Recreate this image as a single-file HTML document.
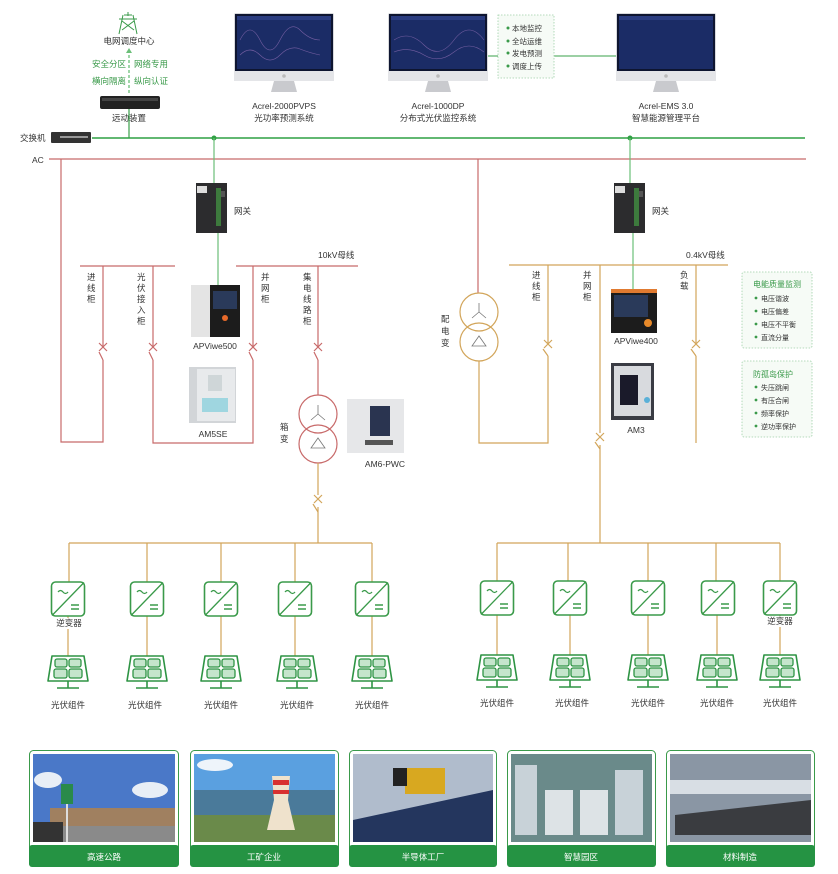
<!DOCTYPE html>
<html><head><meta charset="utf-8"><style>
html,body{margin:0;padding:0;background:#fff;}
svg{display:block;font-family:"Liberation Sans","Noto Sans CJK SC",sans-serif;}
.t{font-size:8.5px;fill:#333;}
.g{font-size:8.5px;fill:#3a9a4a;}
</style></head><body>
<svg width="838" height="874" viewBox="0 0 838 874" xmlns="http://www.w3.org/2000/svg">
<defs>
 <g id="inv">
  <rect x="-16.5" y="0" width="33" height="34" rx="4" fill="#fff" stroke="#3a9a4a" stroke-width="1.6"/>
  <line x1="-16" y1="33.5" x2="16" y2="0.5" stroke="#3a9a4a" stroke-width="1.3"/>
  <path d="M-10 10 q2.5 -3 5 0 t5 0" fill="none" stroke="#3a9a4a" stroke-width="1.3"/>
  <line x1="3" y1="23" x2="11" y2="23" stroke="#3a9a4a" stroke-width="1.5"/>
  <line x1="3" y1="27" x2="11" y2="27" stroke="#3a9a4a" stroke-width="1.5"/>
 </g>
 <g id="pv">
  <path d="M-16 0 H16 L20 25 H-20 Z" fill="#fff" stroke="#2e9444" stroke-width="1.6" stroke-linejoin="round"/>
  <rect x="-13" y="3" width="12" height="8" rx="2" fill="#c5e5cc" stroke="#2e9444" stroke-width="1.3"/>
  <rect x="1" y="3" width="12" height="8" rx="2" fill="#c5e5cc" stroke="#2e9444" stroke-width="1.3"/>
  <rect x="-14" y="13" width="13" height="9" rx="2" fill="#c5e5cc" stroke="#2e9444" stroke-width="1.3"/>
  <rect x="1" y="13" width="13" height="9" rx="2" fill="#c5e5cc" stroke="#2e9444" stroke-width="1.3"/>
  <line x1="0" y1="25" x2="0" y2="32" stroke="#2e9444" stroke-width="1.6"/>
  <line x1="-11" y1="32" x2="11" y2="32" stroke="#2e9444" stroke-width="1.6"/>
 </g>
 <g id="monitor">
  <rect x="0" y="0" width="100" height="68" rx="2" fill="#d8d9dc"/>
  <rect x="1" y="1" width="98" height="57" fill="#0e1530"/>
  <rect x="3" y="6" width="94" height="50" fill="#1b2c66"/>
  <rect x="3" y="3" width="94" height="4" fill="#2a3c80"/>
  <rect x="0" y="58" width="100" height="10" fill="#e4e5e8"/>
  <circle cx="50" cy="63" r="1.8" fill="#bbb"/>
  <path d="M40 68 L60 68 L63 79 L37 79 Z" fill="#c9cace"/>
 </g>
 <g id="gw">
  <rect x="0" y="0" width="31" height="50" fill="#2c2c2e"/>
  <rect x="1" y="3" width="10" height="7" fill="#ddd"/>
  <rect x="20" y="5" width="5" height="38" fill="#3d7a3d"/>
  <rect x="25" y="8" width="4" height="6" fill="#555"/>
 </g>
</defs>

<!-- top: grid center -->
<g stroke="#3a9a4a" stroke-width="1" fill="none">
 <line x1="128" y1="12" x2="128" y2="16"/>
 <line x1="119" y1="19" x2="137" y2="19"/>
 <path d="M124 15 L132 15 M123 15 L119 34 M133 15 L137 34 M122 21 L134 30 M134 21 L122 30"/>
</g>
<text x="129" y="44" class="t" text-anchor="middle">电网调度中心</text>
<line x1="129" y1="50" x2="129" y2="95" stroke="#6bbf78" stroke-width="1.3" stroke-dasharray="3,2"/>
<path d="M126 53 L129 48 L132 53 Z" fill="#6bbf78"/>
<text x="92" y="67" class="g">安全分区</text><text x="134" y="67" class="g">网络专用</text>
<text x="92" y="84" class="g">横向隔离</text><text x="134" y="84" class="g">纵向认证</text>
<rect x="100" y="96" width="60" height="13" rx="2" fill="#222"/>
<rect x="102" y="98" width="56" height="3" fill="#444"/>
<text x="129" y="121" class="t" text-anchor="middle">远动装置</text>
<line x1="129" y1="109" x2="129" y2="138" stroke="#3aa04a" stroke-width="1.2"/>

<!-- monitors -->
<use href="#monitor" x="234" y="13"/>
<use href="#monitor" x="388" y="13"/>
<use href="#monitor" x="616" y="13"/>
<g stroke="#8a6ab0" stroke-width="0.6" fill="none" opacity="0.8">
 <path d="M240 40 q10 -20 20 0 t20 0 t20 -10 t20 10"/><path d="M240 55 q10 -10 20 0 t20 0 t20 -6 t20 6"/>
 <path d="M394 40 q15 -10 30 5 t30 -5 t30 0"/><path d="M394 52 q15 -6 30 3 t30 -3 t30 0"/>
</g>
<text x="284" y="109" class="t" text-anchor="middle">Acrel-2000PVPS</text>
<text x="284" y="121" class="t" text-anchor="middle">光功率预测系统</text>
<text x="438" y="109" class="t" text-anchor="middle">Acrel-1000DP</text>
<text x="438" y="121" class="t" text-anchor="middle">分布式光伏监控系统</text>
<text x="666" y="109" class="t" text-anchor="middle">Acrel-EMS 3.0</text>
<text x="666" y="121" class="t" text-anchor="middle">智慧能源管理平台</text>
<line x1="488" y1="56" x2="498" y2="56" stroke="#3aa04a" stroke-width="1"/>
<line x1="554" y1="56" x2="616" y2="56" stroke="#3aa04a" stroke-width="1"/>
<rect x="498" y="15" width="56" height="63" fill="#f6fbf6" stroke="#9fd0a8" stroke-width="0.8" stroke-dasharray="1.5,1.5"/>
<g font-size="7.5" fill="#333">
 <text x="512" y="31">本地监控</text><text x="512" y="44">全站运维</text><text x="512" y="56">发电预测</text><text x="512" y="69">调度上传</text>
</g>
<g fill="#3a9a4a"><circle cx="508" cy="28" r="1.5"/><circle cx="508" cy="41" r="1.5"/><circle cx="508" cy="53" r="1.5"/><circle cx="508" cy="66" r="1.5"/></g>

<!-- switch & AC lines -->
<text x="20" y="141" class="t">交换机</text>
<rect x="51" y="132" width="40" height="11" rx="1" fill="#333"/>
<rect x="60" y="136" width="28" height="2" fill="#999"/>
<line x1="92" y1="138" x2="805" y2="138" stroke="#2fa043" stroke-width="1.6"/>
<circle cx="214" cy="138" r="2.5" fill="#2fa043"/><circle cx="630" cy="138" r="2.5" fill="#2fa043"/>
<text x="32" y="163" class="t">AC</text>
<line x1="49" y1="159" x2="806" y2="159" stroke="#c86a6a" stroke-width="1.2"/>

<!-- gateways -->
<line x1="214" y1="138" x2="214" y2="183" stroke="#6bbf78" stroke-width="1.2"/>
<use href="#gw" x="196" y="183"/>
<line x1="218" y1="233" x2="218" y2="285" stroke="#6bbf78" stroke-width="1.2"/>
<text x="234" y="214" class="t">网关</text>
<line x1="630" y1="138" x2="630" y2="183" stroke="#6bbf78" stroke-width="1.2"/>
<use href="#gw" x="614" y="183"/>
<line x1="633" y1="233" x2="633" y2="289" stroke="#6bbf78" stroke-width="1.2"/>
<text x="652" y="214" class="t">网关</text>

<!-- left 10kV section (red) -->
<g stroke="#c86a6a" stroke-width="1.2" fill="none">
 <line x1="80" y1="266" x2="175" y2="266"/>
 <line x1="236" y1="266" x2="358" y2="266"/>
 <path d="M61 159 V442 H103 V360"/><line x1="103" y1="266" x2="103" y2="347"/>
 <path d="M153 266 V347 M153 360 V443 H253 V360 M253 266 V347"/>
 <path d="M318 266 V347 M318 360 V395"/>
 <path d="M99 343 L107 351 M107 343 L99 351 M99 352 L103 360"/>
 <path d="M149 343 L157 351 M157 343 L149 351 M149 352 L153 360"/>
 <path d="M249 343 L257 351 M257 343 L249 351 M249 352 L253 360"/>
 <path d="M314 343 L322 351 M322 343 L314 351 M314 352 L318 360"/>
 <circle cx="318" cy="414" r="19"/><circle cx="318" cy="444" r="19"/>
</g>
<g stroke="#777" stroke-width="0.8" fill="none">
 <path d="M318 405 V414 L311 420 M318 414 L325 420"/><path d="M311 448 L318 438 L325 448 Z"/>
 <path d="M479 303 V312 L472 318 M479 312 L486 318"/><path d="M472 346 L479 336 L486 346 Z"/>
</g>
<text x="318" y="258" class="t">10kV母线</text>
<g class="t">
 <text x="87" y="280">进</text><text x="87" y="291">线</text><text x="87" y="302">柜</text>
 <text x="137" y="280">光</text><text x="137" y="291">伏</text><text x="137" y="302">接</text><text x="137" y="313">入</text><text x="137" y="324">柜</text>
 <text x="261" y="280">并</text><text x="261" y="291">网</text><text x="261" y="302">柜</text>
 <text x="303" y="280">集</text><text x="303" y="291">电</text><text x="303" y="302">线</text><text x="303" y="313">路</text><text x="303" y="324">柜</text>
 <text x="280" y="430">箱</text><text x="280" y="442">变</text>
</g>
<!-- devices left -->
<rect x="191" y="285" width="20" height="52" fill="#e4e4e4"/><rect x="210" y="285" width="30" height="52" fill="#1c1c1c"/>
<rect x="213" y="291" width="24" height="18" fill="#2a3a5a"/><circle cx="225" cy="318" r="3" fill="#e86a2a"/>
<text x="215" y="349" class="t" text-anchor="middle">APViwe500</text>
<rect x="189" y="367" width="47" height="56" fill="#d2d5d8"/><rect x="197" y="369" width="38" height="52" fill="#e8eaec"/>
<rect x="208" y="375" width="14" height="16" fill="#cfd6d8"/><rect x="202" y="398" width="26" height="14" fill="#9fd6e0"/>
<text x="213" y="437" class="t" text-anchor="middle">AM5SE</text>
<rect x="347" y="399" width="57" height="54" fill="#e6e7e9"/><rect x="370" y="406" width="20" height="30" fill="#2a3450"/>
<rect x="365" y="440" width="28" height="5" fill="#555"/>
<text x="385" y="467" class="t" text-anchor="middle">AM6-PWC</text>

<!-- left gold below transformer -->
<g stroke="#d2a55a" stroke-width="1.2" fill="none">
 <path d="M318 463 V495 M318 507 V543"/>
 <path d="M314 495 L322 503 M322 495 L314 503 M313 504 L318 512"/>
 <line x1="69" y1="543" x2="372" y2="543"/>
 <path d="M69 543 V582 M147 543 V582 M221 543 V582 M295 543 V582 M372 543 V582"/>
 <path d="M68 616 V656 M147 616 V656 M221 616 V656 M295 616 V656 M372 616 V656"/>
</g>

<!-- right 0.4kV section -->
<line x1="478" y1="159" x2="478" y2="293" stroke="#c86a6a" stroke-width="1.2"/>
<g stroke="#d2a55a" stroke-width="1.2" fill="none">
 <line x1="509" y1="265" x2="728" y2="265"/>
 <circle cx="479" cy="312" r="19"/><circle cx="479" cy="342" r="19"/>
 <path d="M479 361 V443 H548 V356 M548 265 V344"/>
 <path d="M544 340 L552 348 M552 340 L544 348 M543 349 L548 356"/>
 <path d="M600 265 V433 M600 445 V543"/>
 <path d="M596 433 L604 441 M604 433 L596 441 M595 442 L600 449"/>
 <path d="M696 265 V344 M696 356 V443"/>
 <path d="M692 340 L700 348 M700 340 L692 348 M691 349 L696 356"/>
 <line x1="497" y1="543" x2="780" y2="543"/>
 <path d="M497 543 V581 M568 543 V581 M648 543 V581 M716 543 V581 M780 543 V581"/>
 <path d="M497 615 V655 M570 615 V655 M648 615 V655 M717 615 V655 M780 615 V655"/>
</g>
<text x="686" y="258" class="t">0.4kV母线</text>
<g class="t">
 <text x="441" y="322">配</text><text x="441" y="334">电</text><text x="441" y="346">变</text>
 <text x="532" y="278">进</text><text x="532" y="289">线</text><text x="532" y="300">柜</text>
 <text x="583" y="278">并</text><text x="583" y="289">网</text><text x="583" y="300">柜</text>
 <text x="680" y="278">负</text><text x="680" y="289">载</text>
</g>
<rect x="611" y="289" width="46" height="44" fill="#1c1c1c"/><rect x="611" y="289" width="46" height="4" fill="#e07a30"/>
<rect x="614" y="295" width="34" height="22" fill="#2a3a5a"/><circle cx="648" cy="323" r="4" fill="#e88a2a"/>
<text x="636" y="344" class="t" text-anchor="middle">APViwe400</text>
<rect x="611" y="363" width="43" height="57" fill="#3a3c44"/><rect x="614" y="366" width="37" height="50" fill="#d8dade"/>
<rect x="620" y="375" width="18" height="30" fill="#1a1a2a"/><circle cx="647" cy="400" r="3" fill="#5ab0d8"/>
<text x="636" y="433" class="t" text-anchor="middle">AM3</text>

<!-- right info boxes -->
<rect x="742" y="272" width="70" height="76" rx="2" fill="#f6fbf6" stroke="#9fd0a8" stroke-width="0.8" stroke-dasharray="1.5,1.5"/>
<text x="753" y="287" font-size="8" fill="#3a9a4a">电能质量监测</text>
<g font-size="7" fill="#333"><text x="761" y="301">电压谐波</text><text x="761" y="314">电压偏差</text><text x="761" y="327">电压不平衡</text><text x="761" y="340">直流分量</text></g>
<g fill="#3a9a4a"><circle cx="756" cy="298" r="1.4"/><circle cx="756" cy="311" r="1.4"/><circle cx="756" cy="324" r="1.4"/><circle cx="756" cy="337" r="1.4"/></g>
<rect x="742" y="361" width="70" height="76" rx="2" fill="#f6fbf6" stroke="#9fd0a8" stroke-width="0.8" stroke-dasharray="1.5,1.5"/>
<text x="753" y="377" font-size="8" fill="#3a9a4a">防孤岛保护</text>
<g font-size="7" fill="#333"><text x="761" y="390">失压跳闸</text><text x="761" y="403">有压合闸</text><text x="761" y="416">频率保护</text><text x="761" y="429">逆功率保护</text></g>
<g fill="#3a9a4a"><circle cx="756" cy="387" r="1.4"/><circle cx="756" cy="400" r="1.4"/><circle cx="756" cy="413" r="1.4"/><circle cx="756" cy="426" r="1.4"/></g>

<!-- inverters & panels -->
<use href="#inv" x="68" y="582"/><use href="#inv" x="147" y="582"/><use href="#inv" x="221" y="582"/><use href="#inv" x="295" y="582"/><use href="#inv" x="372" y="582"/>
<use href="#inv" x="497" y="581"/><use href="#inv" x="570" y="581"/><use href="#inv" x="648" y="581"/><use href="#inv" x="718" y="581"/><use href="#inv" x="780" y="581"/>
<rect x="56" y="618" width="26" height="11" fill="#fff"/><text x="69" y="626" class="t" text-anchor="middle">逆变器</text>
<rect x="767" y="616" width="26" height="11" fill="#fff"/><text x="780" y="624" class="t" text-anchor="middle">逆变器</text>
<use href="#pv" x="68" y="656"/><use href="#pv" x="147" y="656"/><use href="#pv" x="221" y="656"/><use href="#pv" x="297" y="656"/><use href="#pv" x="372" y="656"/>
<use href="#pv" x="497" y="655"/><use href="#pv" x="570" y="655"/><use href="#pv" x="648" y="655"/><use href="#pv" x="717" y="655"/><use href="#pv" x="780" y="655"/>
<g class="t" text-anchor="middle">
 <text x="68" y="708">光伏组件</text><text x="145" y="708">光伏组件</text><text x="221" y="708">光伏组件</text><text x="297" y="708">光伏组件</text><text x="372" y="708">光伏组件</text>
 <text x="497" y="706">光伏组件</text><text x="572" y="706">光伏组件</text><text x="648" y="706">光伏组件</text><text x="717" y="706">光伏组件</text><text x="780" y="706">光伏组件</text>
</g>

<!-- bottom cards -->
<g>
 <rect x="29.5" y="750.5" width="149" height="116" rx="4" fill="#fff" stroke="#3a9a4a"/>
 <rect x="33" y="754" width="142" height="88" fill="#4a78c8"/>
 <ellipse cx="48" cy="780" rx="14" ry="8" fill="#e8eef6"/><ellipse cx="150" cy="790" rx="18" ry="8" fill="#e8eef6"/>
 <rect x="50" y="808" width="125" height="18" fill="#a08060"/><rect x="33" y="826" width="142" height="16" fill="#8a8a8a"/>
 <rect x="33" y="822" width="30" height="20" fill="#333"/>
 <rect x="61" y="784" width="12" height="20" fill="#2a8a4a"/><rect x="66" y="804" width="2" height="38" fill="#ddd"/>
 <rect x="29" y="845" width="150" height="22" rx="3" fill="#259343"/>
 <text x="104" y="860" font-size="8.5" fill="#fff" text-anchor="middle">高速公路</text>

 <rect x="190.5" y="750.5" width="148" height="116" rx="4" fill="#fff" stroke="#3a9a4a"/>
 <rect x="194" y="754" width="141" height="88" fill="#5aa0e0"/>
 <ellipse cx="215" cy="765" rx="18" ry="6" fill="#eef4fa"/>
 <rect x="194" y="790" width="141" height="52" fill="#4a7a9a"/><rect x="194" y="815" width="141" height="27" fill="#6a8a4a"/>
 <path d="M272 776 L290 776 L288 800 L295 830 L267 830 L274 800 Z" fill="#efe2cc"/><rect x="273" y="780" width="16" height="5" fill="#d83030"/><rect x="273" y="790" width="16" height="4" fill="#d83030"/>
 <rect x="190" y="845" width="149" height="22" rx="3" fill="#259343"/>
 <text x="264" y="860" font-size="8.5" fill="#fff" text-anchor="middle">工矿企业</text>

 <rect x="349.5" y="750.5" width="147" height="116" rx="4" fill="#fff" stroke="#3a9a4a"/>
 <rect x="353" y="754" width="140" height="88" fill="#b0bccc"/><path d="M353 842 L353 820 L493 790 L493 842 Z" fill="#24365e"/>
 <rect x="405" y="768" width="40" height="26" fill="#d8a820"/><rect x="393" y="768" width="14" height="18" fill="#222"/>
 <rect x="349" y="845" width="148" height="22" rx="3" fill="#259343"/>
 <text x="423" y="860" font-size="8.5" fill="#fff" text-anchor="middle">半导体工厂</text>

 <rect x="507.5" y="750.5" width="148" height="116" rx="4" fill="#fff" stroke="#3a9a4a"/>
 <rect x="511" y="754" width="141" height="88" fill="#6a8a8a"/>
 <rect x="515" y="765" width="22" height="70" fill="#c8d2d8"/><rect x="545" y="790" width="28" height="45" fill="#dde3e6"/><rect x="580" y="790" width="28" height="45" fill="#dde3e6"/><rect x="615" y="770" width="28" height="65" fill="#c8d2d8"/>
 <rect x="507" y="845" width="149" height="22" rx="3" fill="#259343"/>
 <text x="581" y="860" font-size="8.5" fill="#fff" text-anchor="middle">智慧园区</text>

 <rect x="666.5" y="750.5" width="148" height="116" rx="4" fill="#fff" stroke="#3a9a4a"/>
 <rect x="670" y="754" width="141" height="88" fill="#8a96a4"/><rect x="670" y="780" width="141" height="14" fill="#d8dee4"/>
 <path d="M675 835 L675 815 L811 800 L811 835 Z" fill="#3a3c40"/>
 <rect x="666" y="845" width="149" height="22" rx="3" fill="#259343"/>
 <text x="740" y="860" font-size="8.5" fill="#fff" text-anchor="middle">材料制造</text>
</g>
</svg>
</body></html>
